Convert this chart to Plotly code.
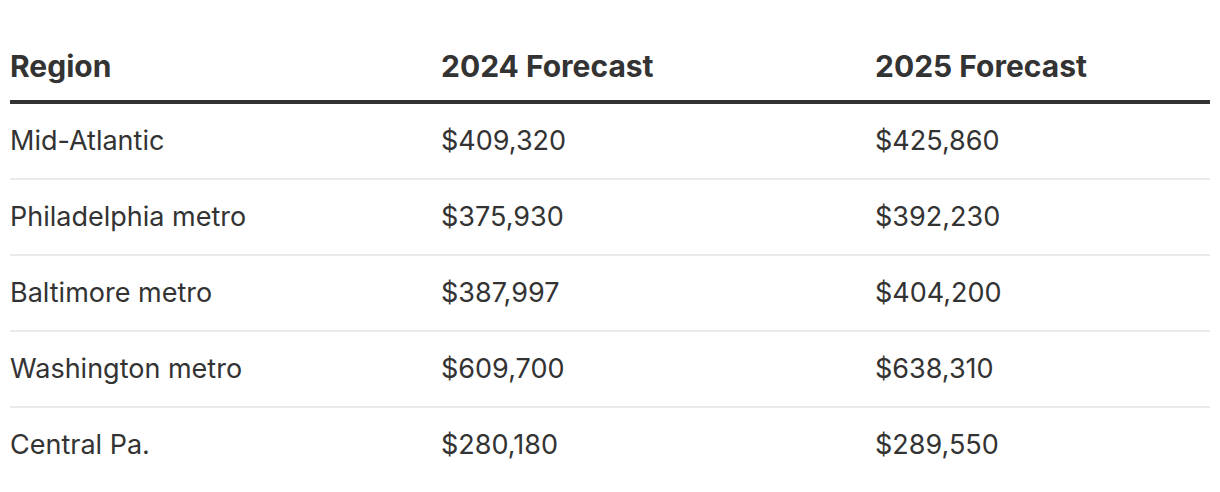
import plotly.graph_objects as go

headers = ["Region", "2024 Forecast", "2025 Forecast"]
regions = ["Mid-Atlantic", "Philadelphia metro", "Baltimore metro", "Washington metro", "Central Pa."]
forecast_2024 = [409320, 375930, 387997, 609700, 280180]
forecast_2025 = [425860, 392230, 404200, 638310, 289550]

W, H = 1220, 492
off = 8  # page body margin
col_x = [8 - off, 439 - off, 873 - off]
header_y = 66 - off
row_y0 = 140 - off
row_step = 76
text_color = "#333333"
font_family = "Inter, 'Noto Sans', sans-serif"

fig = go.Figure()
# invisible trace so the axes exist
fig.add_trace(go.Scatter(x=[0, W], y=[0, H], mode="markers", marker=dict(opacity=0), hoverinfo="skip", showlegend=False))

annotations = []
for x, h in zip(col_x, headers):
    annotations.append(dict(x=x, y=header_y, text=f"<b>{h}</b>", xanchor="left", yanchor="middle",
                            showarrow=False, font=dict(size=30, color=text_color, family=font_family)))

rows = list(zip(regions, forecast_2024, forecast_2025))
for i, (r, a, b) in enumerate(rows):
    y = row_y0 + i * row_step
    for x, t in zip(col_x, [r, f"${a:,}", f"${b:,}"]):
        annotations.append(dict(x=x, y=y, text=t, xanchor="left", yanchor="middle",
                                showarrow=False, font=dict(size=27, color=text_color, family=font_family)))

shapes = [dict(type="line", x0=10 - off, x1=1210 - off, y0=102 - off, y1=102 - off,
               line=dict(color="#333333", width=4))]
for i in range(len(rows) - 1):
    y = row_y0 + i * row_step + 39
    shapes.append(dict(type="line", x0=10 - off, x1=1210 - off, y0=y, y1=y, line=dict(color="#eaeaea", width=2)))

fig.update_layout(
    width=W, height=H,
    margin=dict(l=0, r=0, t=0, b=0),
    paper_bgcolor="white", plot_bgcolor="white",
    xaxis=dict(range=[0, W], visible=False, fixedrange=True),
    yaxis=dict(range=[H, 0], visible=False, fixedrange=True),
    annotations=annotations, shapes=shapes,
)

fig.write_html("out.html", config={"displayModeBar": False})
